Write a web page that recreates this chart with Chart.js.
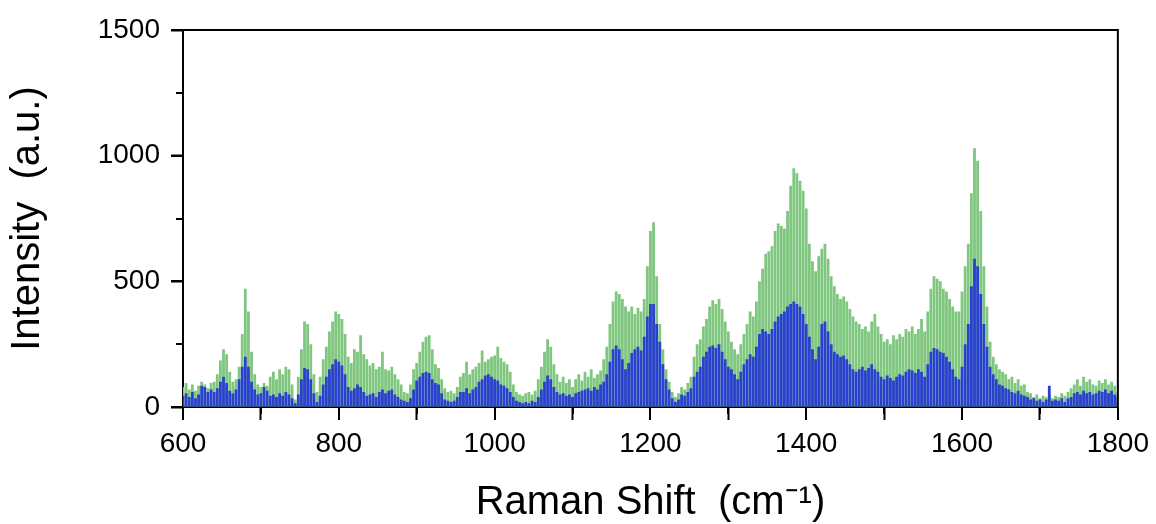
<!DOCTYPE html>
<html><head><meta charset="utf-8">
<script src="https://cdn.jsdelivr.net/npm/chart.js@4"></script>
<style>html,body{margin:0;padding:0;background:#fff;overflow:hidden}</style>
</head><body>
<canvas id="c" width="1156" height="524"></canvas>
<script>
const shifts = [
 600,604,608,612,616,620,624,628,632,636,
 640,644,648,652,656,660,664,668,672,676,
 680,684,688,692,696,700,704,708,712,716,
 720,724,728,732,736,740,744,748,752,756,
 760,764,768,772,776,780,784,788,792,796,
 800,804,808,812,816,820,824,828,832,836,
 840,844,848,852,856,860,864,868,872,876,
 880,884,888,892,896,900,904,908,912,916,
 920,924,928,932,936,940,944,948,952,956,
 960,964,968,972,976,980,984,988,992,996,
 1000,1004,1008,1012,1016,1020,1024,1028,1032,1036,
 1040,1044,1048,1052,1056,1060,1064,1068,1072,1076,
 1080,1084,1088,1092,1096,1100,1104,1108,1112,1116,
 1120,1124,1128,1132,1136,1140,1144,1148,1152,1156,
 1160,1164,1168,1172,1176,1180,1184,1188,1192,1196,
 1200,1204,1208,1212,1216,1220,1224,1228,1232,1236,
 1240,1244,1248,1252,1256,1260,1264,1268,1272,1276,
 1280,1284,1288,1292,1296,1300,1304,1308,1312,1316,
 1320,1324,1328,1332,1336,1340,1344,1348,1352,1356,
 1360,1364,1368,1372,1376,1380,1384,1388,1392,1396,
 1400,1404,1408,1412,1416,1420,1424,1428,1432,1436,
 1440,1444,1448,1452,1456,1460,1464,1468,1472,1476,
 1480,1484,1488,1492,1496,1500,1504,1508,1512,1516,
 1520,1524,1528,1532,1536,1540,1544,1548,1552,1556,
 1560,1564,1568,1572,1576,1580,1584,1588,1592,1596,
 1600,1604,1608,1612,1616,1620,1624,1628,1632,1636,
 1640,1644,1648,1652,1656,1660,1664,1668,1672,1676,
 1680,1684,1688,1692,1696,1700,1704,1708,1712,1716,
 1720,1724,1728,1732,1736,1740,1744,1748,1752,1756,
 1760,1764,1768,1772,1776,1780,1784,1788,1792,1796,
 1800
];
const greenIntensity = [
 80,95,70,90,65,85,100,90,75,95,
 100,130,185,230,210,140,100,110,160,290,
 470,380,220,130,90,80,95,85,120,140,
 110,150,130,160,150,90,30,120,230,340,
 330,250,130,60,120,190,240,300,340,380,
 370,350,290,200,175,230,220,285,210,190,
 165,175,150,160,220,150,145,160,130,110,
 90,60,55,90,150,175,220,260,280,285,
 230,170,155,110,75,60,65,55,80,120,
 135,180,130,150,160,175,225,180,190,200,
 205,240,195,180,170,140,90,60,50,45,
 55,60,50,65,110,160,220,270,240,170,
 130,100,120,95,110,80,110,130,105,140,
 120,150,115,130,145,190,240,330,420,460,
 450,430,400,380,400,370,395,380,430,560,
 700,735,520,330,230,150,100,60,40,55,
 80,70,95,120,200,250,270,320,350,400,
 425,410,430,390,340,300,260,230,210,250,
 290,330,380,360,420,500,550,610,620,640,
 700,730,720,710,780,880,950,930,900,860,
 790,650,580,540,600,630,650,590,520,480,
 450,430,440,420,390,360,340,330,310,320,
 300,340,370,320,290,260,270,250,285,270,
 290,280,310,300,320,290,310,350,300,380,
 470,520,510,500,470,460,430,400,380,380,
 460,560,650,850,1030,980,780,560,400,260,
 200,170,150,140,130,110,120,95,110,85,
 90,60,55,40,50,35,45,40,50,35,
 45,40,55,45,60,75,90,110,85,120,
 100,110,90,85,105,95,110,90,100,85,
 60
];
const blueIntensity = [
 45,55,40,60,35,50,85,80,60,70,
 60,75,100,120,95,65,55,70,110,160,
 200,160,100,70,50,55,80,65,45,50,
 40,55,45,60,50,35,15,50,110,155,
 150,110,55,20,45,90,120,150,170,190,
 180,165,130,80,65,75,90,80,60,45,
 50,55,40,60,70,55,65,70,50,40,
 30,25,20,35,70,105,120,135,140,135,
 110,95,90,55,30,25,20,25,40,60,
 60,75,55,70,80,100,110,125,130,120,
 110,105,90,85,75,60,40,25,20,15,
 20,15,25,20,40,70,100,125,110,80,
 60,50,55,45,50,40,55,60,65,70,
 75,65,80,70,90,100,130,180,230,245,
 230,190,150,175,215,230,240,225,280,360,
 410,410,330,260,170,110,70,35,20,30,
 50,45,60,75,120,140,160,200,220,240,
 245,235,250,220,190,160,150,130,110,140,
 170,190,210,200,240,290,310,300,290,310,
 340,360,370,380,400,410,420,410,400,370,
 330,280,230,190,240,330,340,300,250,220,
 210,200,205,190,170,150,140,150,160,145,
 155,170,150,140,120,110,125,115,105,120,
 130,125,140,150,145,135,150,140,120,170,
 220,235,230,220,215,200,180,150,120,110,
 160,250,330,480,590,560,450,330,240,160,
 130,110,90,85,75,70,60,55,65,50,
 45,40,30,35,25,30,20,30,85,25,
 30,25,35,20,35,40,55,60,50,65,
 55,60,50,55,65,60,70,55,65,50,
 40
];
const xMinorTicks = [700, 900, 1100, 1300, 1500, 1700];
const yMinorTicks = [250, 750, 1250];
const xTitle = 'Raman Shift  (cm\u207B\u00B9)';
const yTitle = 'Intensity  (a.u.)';

const FONT = "'Liberation Sans', Arial, sans-serif";

const framePlugin = {
  id: 'frame',
  afterDraw(chart) {
    const {ctx, chartArea, scales} = chart;
    const {left, right, top, bottom} = chartArea;
    ctx.save();
    ctx.strokeStyle = '#000';
    ctx.lineWidth = 2;
    ctx.beginPath();
    ctx.moveTo(left, top);
    ctx.lineTo(right, top);
    ctx.lineTo(right, bottom);
    scales.x.ticks.forEach(t => {
      const px = Math.round(scales.x.getPixelForValue(t.value));
      ctx.moveTo(px, bottom);
      ctx.lineTo(px, bottom + 13);
    });
    scales.y.ticks.forEach(t => {
      const py = Math.round(scales.y.getPixelForValue(t.value));
      ctx.moveTo(left, py);
      ctx.lineTo(left - 12, py);
    });
    xMinorTicks.forEach(v => {
      const px = Math.round(scales.x.getPixelForValue(v));
      ctx.moveTo(px, bottom);
      ctx.lineTo(px, bottom + 7);
    });
    yMinorTicks.forEach(v => {
      const py = Math.round(scales.y.getPixelForValue(v));
      ctx.moveTo(left, py);
      ctx.lineTo(left - 7, py);
    });
    ctx.stroke();
    ctx.restore();
  }
};

new Chart(document.getElementById('c'), {
  type: 'bar',
  data: {
    labels: shifts,
    datasets: [
      {label: 'blue', data: blueIntensity, backgroundColor: '#2a40cf', order: 0},
      {label: 'green', data: greenIntensity, backgroundColor: '#7fc67f', order: 1}
    ]
  },
  options: {
    responsive: false,
    devicePixelRatio: 1,
    animation: false,
    datasets: {bar: {grouped: false, barPercentage: 1, categoryPercentage: 0.9, borderWidth: 0}},
    layout: {padding: {top: 30, right: 37, left: 0, bottom: 0}},
    plugins: {legend: {display: false}, tooltip: {enabled: false}},
    scales: {
      x: {
        type: 'linear',
        min: 600, max: 1800,
        offset: false,
        afterFit: s => { s.height = 117; },
        border: {display: true, color: '#000', width: 2},
        grid: {drawOnChartArea: false, drawTicks: true, tickLength: 13, tickColor: '#000', tickWidth: 2},
        ticks: {stepSize: 200, color: '#000', padding: 7, font: {family: FONT, size: 28}, maxRotation: 0, callback: v => String(v)},
        title: {display: true, text: xTitle, color: '#000', font: {family: FONT, size: 40, lineHeight: 1}, padding: {top: 0, bottom: 1}}
      },
      y: {
        min: 0, max: 1500,
        afterFit: s => { s.width = 183; },
        border: {display: true, color: '#000', width: 2},
        grid: {drawOnChartArea: false, drawTicks: true, tickLength: 12, tickColor: '#000', tickWidth: 2},
        ticks: {stepSize: 500, color: '#000', padding: 11, font: {family: FONT, size: 28}, callback: v => String(v)},
        title: {display: true, text: yTitle, color: '#000', font: {family: FONT, size: 40, lineHeight: 1}, padding: {top: 8, bottom: 0}}
      }
    }
  },
  plugins: [framePlugin]
});
</script>
</body></html>
